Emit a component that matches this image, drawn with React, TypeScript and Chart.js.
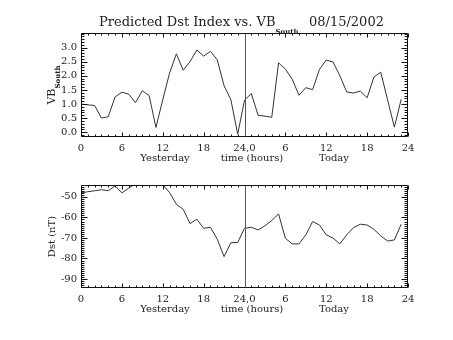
import React, { useEffect, useRef } from "react";
import { Chart, registerables } from "chart.js";

Chart.register(...registerables);

// ---- data ----
const HOURS = [
  0, 1, 2, 3, 4, 5, 6, 7, 8, 9, 10, 11, 12, 13, 14, 15, 16, 17, 18, 19, 20, 21, 22, 23,
  24, 25, 26, 27, 28, 29, 30, 31, 32, 33, 34, 35, 36, 37, 38, 39, 40, 41, 42, 43, 44, 45, 46, 47,
];
const VB_SOUTH = [
  1.0, 0.97, 0.95, 0.5, 0.55, 1.25, 1.42, 1.35, 1.05, 1.47, 1.3, 0.17, 1.15, 2.1, 2.78, 2.2,
  2.5, 2.92, 2.7, 2.87, 2.57, 1.65, 1.15, -0.07, 1.14, 1.37, 0.6, 0.57, 0.53, 2.46, 2.24, 1.88,
  1.31, 1.58, 1.51, 2.23, 2.56, 2.49, 2.0, 1.43, 1.39, 1.46, 1.22, 1.96, 2.13, 1.15, 0.18, 1.17,
];
const DST = [
  -48, -47.5, -47, -46.5, -47, -44.6, -48, -45.8, -43.5, -43, -44.2, -44.2, -44, -47.9, -53.6, -56,
  -63, -60.9, -65.3, -64.8, -70.6, -79.1, -72.3, -72.2, -65.3, -64.8, -66.1, -64.1, -61.5, -58.3, -70.2, -72.9,
  -72.9, -68.5, -62, -63.7, -68.5, -70.1, -72.9, -68.5, -65, -63.3, -63.7, -65.8, -69, -71.5, -71, -63.3,
];
const X_TICKS = [0, 6, 12, 18, 24, 30, 36, 42, 48];
const X_TICK_LABELS = ["0", "6", "12", "18", "24,0", "6", "12", "18", "24"];
const VB_TICKS = [0, 0.5, 1, 1.5, 2, 2.5, 3];
const DST_TICKS = [-90, -80, -70, -60, -50];
const ROW_LABELS = ["Yesterday", "time (hours)", "Today"];
const TITLE_MAIN = "Predicted Dst Index vs. VB";
const TITLE_SUB = "South";
const TITLE_DATE = "08/15/2002";
const DAY_BOUNDARY = 24;

const FONT = '"DejaVu Serif", "Liberation Serif", serif';
const TEXT_COLOR = "#222";
const W = 453;
const H = 170;

type PanelOpts = {
  values: number[];
  yMin: number;
  yMax: number;
  yTicks: number[];
  yDecimals: number;
  yMinorStep: number;
  areaTop: number;
  areaBottom: number;
  isTop: boolean;
};

function makePlugin(o: PanelOpts) {
  return {
    id: "idlDecor",
    afterDraw(chart: any) {
      const { ctx, chartArea: a, scales } = chart;
      const x = scales.x;
      const y = scales.y;
      ctx.save();
      ctx.strokeStyle = "#111";
      ctx.lineWidth = 1;
      const L = Math.round(a.left) + 0.5;
      const R = Math.round(a.right) - 0.5;
      const T = Math.round(a.top) + 0.5;
      const B = Math.round(a.bottom) - 0.5;
      ctx.beginPath();
      ctx.rect(L, T, R - L, B - T);
      // x ticks (hourly minor, 6-hourly major)
      for (let h = 0; h <= 48; h++) {
        const px = Math.round(x.getPixelForValue(h)) + 0.5;
        const len = h % 6 === 0 ? 4 : 2;
        ctx.moveTo(px, B);
        ctx.lineTo(px, B - len);
        ctx.moveTo(px, T);
        ctx.lineTo(px, T + len);
      }
      // y ticks
      const start = Math.ceil(o.yMin / o.yMinorStep - 1e-6);
      const end = Math.floor(o.yMax / o.yMinorStep + 1e-6);
      for (let k = start; k <= end; k++) {
        const v = k * o.yMinorStep;
        const py = Math.round(y.getPixelForValue(v)) + 0.5;
        const major = o.yTicks.some((t) => Math.abs(t - v) < 1e-6);
        const len = major ? 6 : 3;
        ctx.moveTo(L, py);
        ctx.lineTo(L + len, py);
        ctx.moveTo(R, py);
        ctx.lineTo(R - len, py);
      }
      ctx.stroke();
      // day boundary line
      ctx.beginPath();
      ctx.strokeStyle = "#555";
      const dx = Math.round(x.getPixelForValue(DAY_BOUNDARY)) + 0.5;
      ctx.moveTo(dx, T);
      ctx.lineTo(dx, B);
      ctx.stroke();

      // texts
      ctx.fillStyle = TEXT_COLOR;
      ctx.textBaseline = "middle";
      ctx.font = `10px ${FONT}`;
      ctx.textAlign = "center";
      const rowY = a.bottom + 21;
      ctx.fillText(ROW_LABELS[0], 165, rowY);
      ctx.fillText(ROW_LABELS[1], 252, rowY);
      ctx.fillText(ROW_LABELS[2], 334, rowY);

      // y-axis title (rotated)
      const cy = (a.top + a.bottom) / 2;
      ctx.save();
      ctx.translate(52, cy);
      ctx.rotate(-Math.PI / 2);
      if (o.isTop) {
        ctx.font = `11px ${FONT}`;
        const w1 = ctx.measureText("VB").width;
        ctx.font = `bold 7px ${FONT}`;
        const w2 = ctx.measureText(TITLE_SUB).width;
        const total = w1 + w2;
        ctx.textAlign = "left";
        ctx.font = `11px ${FONT}`;
        ctx.fillText("VB", -total / 2, 0);
        ctx.font = `bold 7px ${FONT}`;
        ctx.fillText(TITLE_SUB, -total / 2 + w1, 6);
      } else {
        ctx.font = `10px ${FONT}`;
        ctx.textAlign = "center";
        ctx.fillText("Dst (nT)", 0, 0);
      }
      ctx.restore();

      if (o.isTop) {
        ctx.textAlign = "left";
        ctx.font = `13px ${FONT}`;
        ctx.fillText(TITLE_MAIN, 99, 23);
        const wm = ctx.measureText(TITLE_MAIN).width;
        ctx.font = `bold 7px ${FONT}`;
        ctx.fillText(TITLE_SUB, 99 + wm, 32);
        ctx.font = `13px ${FONT}`;
        ctx.fillText(TITLE_DATE, 309, 23);
      }
      ctx.restore();
    },
  };
}

function buildChart(canvas: HTMLCanvasElement, o: PanelOpts) {
  const xHeight = H - o.areaBottom;
  return new Chart(canvas, {
    type: "line",
    data: {
      datasets: [
        {
          data: HOURS.map((h, i) => ({ x: h, y: o.values[i] })),
          borderColor: "#333",
          borderWidth: 1,
          pointRadius: 0,
          tension: 0,
          clip: 0,
        } as any,
      ],
    },
    options: {
      animation: false,
      responsive: false,
      devicePixelRatio: 1,
      events: [],
      layout: { padding: { top: o.areaTop, left: 0, right: W - 408, bottom: 0 } },
      plugins: { legend: { display: false }, tooltip: { enabled: false }, title: { display: false } },
      scales: {
        x: {
          type: "linear",
          min: 0,
          max: 48,
          grid: { display: false, drawTicks: false },
          border: { display: false },
          afterBuildTicks: (s: any) => {
            s.ticks = X_TICKS.map((v) => ({ value: v }));
          },
          afterFit: (s: any) => {
            s.height = xHeight;
          },
          ticks: {
            autoSkip: false,
            maxRotation: 0,
            padding: 5,
            color: TEXT_COLOR,
            font: { family: FONT, size: 10 },
            callback: (_v: any, i: number) => X_TICK_LABELS[i],
          },
        },
        y: {
          type: "linear",
          min: o.yMin,
          max: o.yMax,
          grid: { display: false, drawTicks: false },
          border: { display: false },
          afterBuildTicks: (s: any) => {
            s.ticks = o.yTicks.map((v) => ({ value: v }));
          },
          afterFit: (s: any) => {
            s.width = 81;
          },
          ticks: {
            padding: 4,
            color: TEXT_COLOR,
            font: { family: FONT, size: 10 },
            callback: (v: any) => Number(v).toFixed(o.yDecimals),
          },
        },
      },
    },
    plugins: [makePlugin(o)],
  } as any);
}

export default function App() {
  const topRef = useRef<HTMLCanvasElement>(null);
  const botRef = useRef<HTMLCanvasElement>(null);

  useEffect(() => {
    const c1 = buildChart(topRef.current!, {
      values: VB_SOUTH,
      yMin: -0.17,
      yMax: 3.52,
      yTicks: VB_TICKS,
      yDecimals: 1,
      yMinorStep: 0.1,
      areaTop: 33,
      areaBottom: 137,
      isTop: true,
    });
    const c2 = buildChart(botRef.current!, {
      values: DST,
      yMin: -94.4,
      yMax: -44.2,
      yTicks: DST_TICKS,
      yDecimals: 0,
      yMinorStep: 1,
      areaTop: 185 - H,
      areaBottom: 288 - H,
      isTop: false,
    });
    return () => {
      c1.destroy();
      c2.destroy();
    };
  }, []);

  return (
    <div style={{ position: "fixed", left: 0, top: 0, width: W, height: 2 * H, background: "#fff" }}>
      <canvas ref={topRef} width={W} height={H} style={{ display: "block" }} />
      <canvas ref={botRef} width={W} height={H} style={{ display: "block" }} />
    </div>
  );
}
